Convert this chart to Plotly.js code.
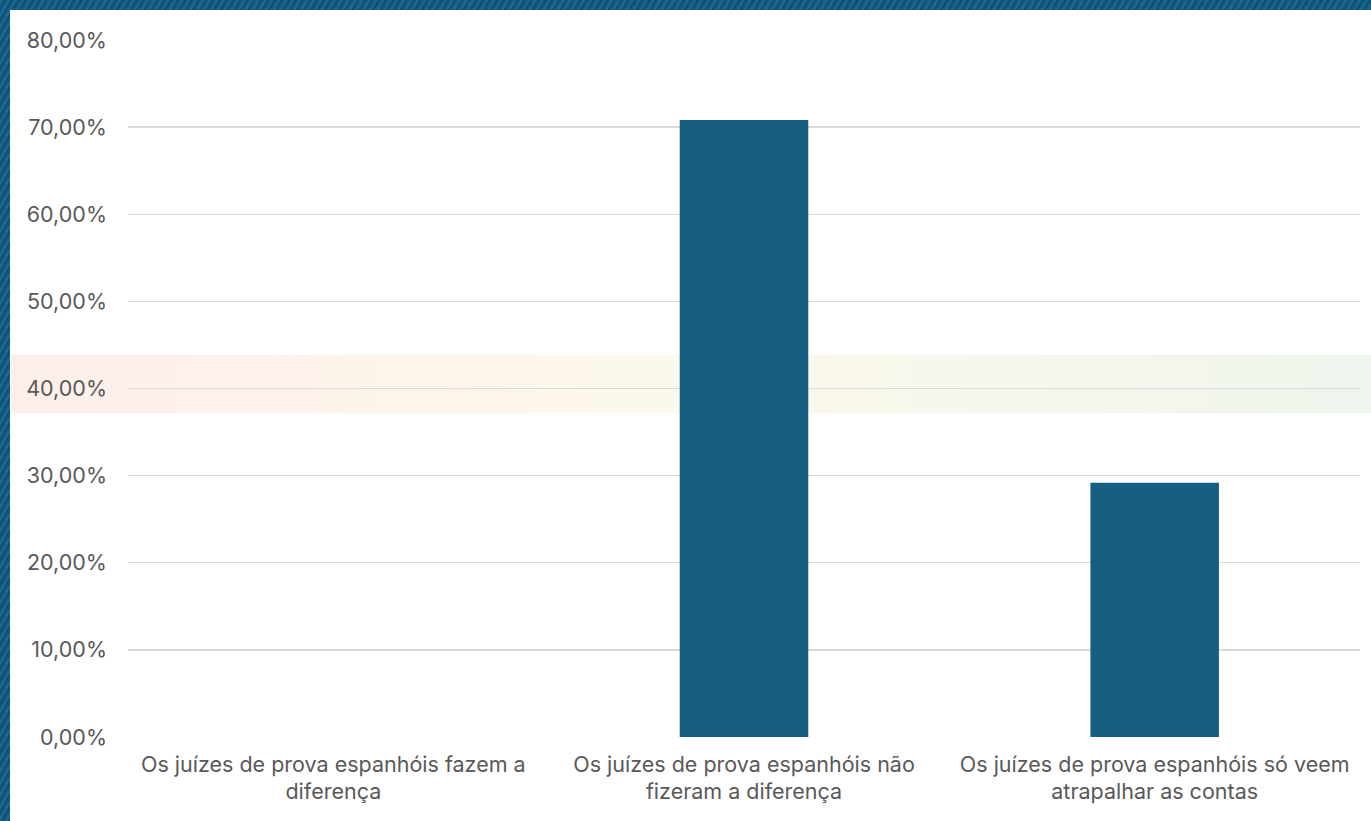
<!DOCTYPE html>
<html><head><meta charset="utf-8">
<script src="https://cdn.plot.ly/plotly-3.0.1.min.js"></script>
<style>
html,body{margin:0;padding:0;}
#wrap{position:relative;width:1371px;height:821px;overflow:hidden;
 background:repeating-linear-gradient(120deg,#11557d 0px,#1d6f97 2px,#0d4a70 4px,#176088 6px);}
#chart{position:absolute;left:10px;top:10px;width:1361px;height:811px;background:#fff;}
</style></head><body>
<div id="wrap"><div id="chart"></div></div>
<script>
const categories = [
 "Os juízes de prova espanhóis fazem a<br>diferença",
 "Os juízes de prova espanhóis não<br>fizeram a diferença",
 "Os juízes de prova espanhóis só veem<br>atrapalhar as contas"
];
const values = [0, 0.7083, 0.2917];
const yTicks = [0,0.1,0.2,0.3,0.4,0.5,0.6,0.7,0.8];

const band = 'data:image/svg+xml;utf8,' + encodeURIComponent(
 '<svg xmlns="http://www.w3.org/2000/svg" width="1000" height="100" preserveAspectRatio="none"><defs><linearGradient id="g" x1="0" x2="1"><stop offset="0" stop-color="#fdeeea"/><stop offset="0.45" stop-color="#fdf8ec"/><stop offset="1" stop-color="#eef5ec"/></linearGradient></defs><rect width="1000" height="100" fill="url(#g)"/></svg>');

const trace = {
 type:'bar', x:categories, y:values,
 marker:{color:'#175e80'}, width:0.313,
 hoverinfo:'skip'
};
const layout = {
 width:1361, height:811,
 margin:{l:118, r:11, t:30, b:84},
 paper_bgcolor:'rgba(0,0,0,0)', plot_bgcolor:'rgba(0,0,0,0)',
 separators:',.',
 showlegend:false,
 font:{family:'Inter, "Noto Sans", sans-serif', size:21.5, color:'#595959'},
 xaxis:{type:'category', showgrid:false, zeroline:false, showline:false, ticks:'',
   ticklabelstandoff:12, tickfont:{size:21.5,color:'#595959'}},
 yaxis:{range:[0,0.8], tickvals:yTicks, tickformat:'.2%', gridcolor:'#d9d9d9', gridwidth:1.3,
   zeroline:false, showline:false, ticks:'', ticklabelstandoff:20,
   tickfont:{size:21.5,color:'#595959'}},
 images:[{source:band, xref:'paper', yref:'paper', x:-0.095, y:0.548, sizex:1.12, sizey:0.083,
   sizing:'stretch', layer:'below', xanchor:'left', yanchor:'top'}]
};
Plotly.newPlot('chart',[trace],layout,{displayModeBar:false, staticPlot:true});
</script>
</body></html>
